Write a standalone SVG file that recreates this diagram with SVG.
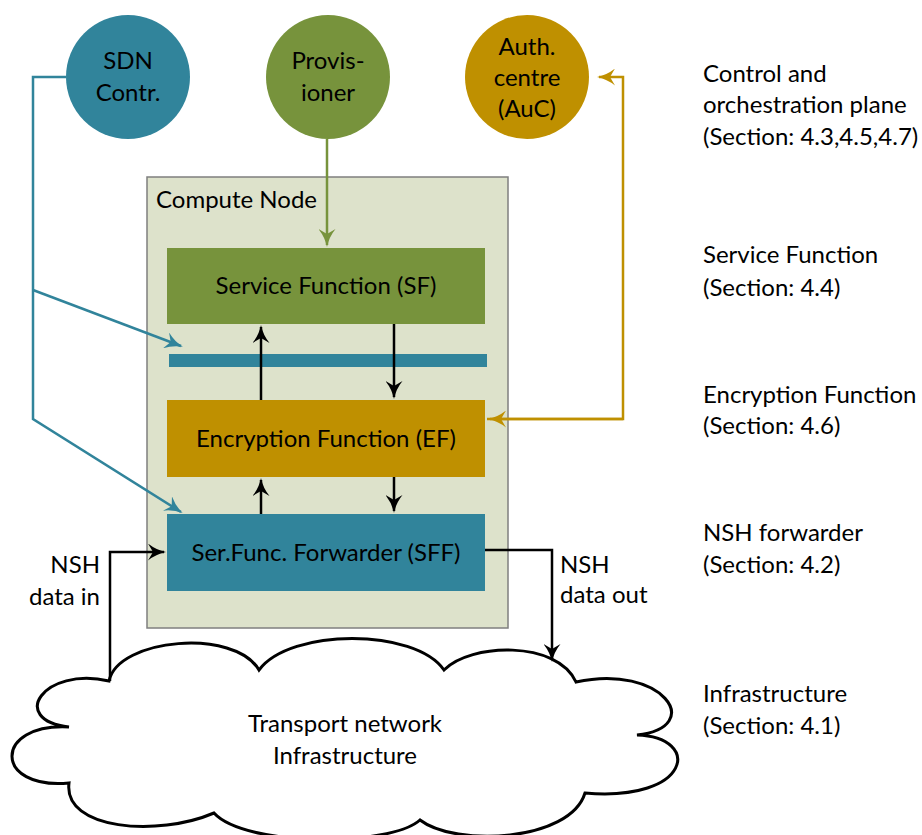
<svg xmlns="http://www.w3.org/2000/svg" width="922" height="835" viewBox="0 0 922 835">
  <style>
    text { font-family: "Lato", "Open Sans", "Liberation Sans", sans-serif; font-size: 24px; fill: #000; }
    .mid { text-anchor: middle; }
    .end { text-anchor: end; }
    .black { fill: none; stroke: #000; stroke-width: 2.5; }
    .teal { fill: none; stroke: #31849b; stroke-width: 2.5; }
    .olive { fill: none; stroke: #77933c; stroke-width: 2.5; }
    .gold { fill: none; stroke: #bf9000; stroke-width: 2.5; }
  </style>
  <defs>
    <marker id="ahBlack" viewBox="0 0 18 17" refX="16" refY="8.5" markerWidth="18" markerHeight="17" markerUnits="userSpaceOnUse" orient="auto">
      <path d="M18,8.5 Q8,6.5 0,0 L5,8.5 L0,17 Q8,10.5 18,8.5 Z" fill="#000"/>
    </marker>
    <marker id="ahTeal" viewBox="0 0 18 17" refX="16" refY="8.5" markerWidth="18" markerHeight="17" markerUnits="userSpaceOnUse" orient="auto">
      <path d="M18,8.5 Q8,6.5 0,0 L5,8.5 L0,17 Q8,10.5 18,8.5 Z" fill="#31849b"/>
    </marker>
    <marker id="ahOlive" viewBox="0 0 18 17" refX="16" refY="8.5" markerWidth="18" markerHeight="17" markerUnits="userSpaceOnUse" orient="auto">
      <path d="M18,8.5 Q8,6.5 0,0 L5,8.5 L0,17 Q8,10.5 18,8.5 Z" fill="#77933c"/>
    </marker>
    <marker id="ahGold" viewBox="0 0 18 17" refX="16" refY="8.5" markerWidth="18" markerHeight="17" markerUnits="userSpaceOnUse" orient="auto">
      <path d="M18,8.5 Q8,6.5 0,0 L5,8.5 L0,17 Q8,10.5 18,8.5 Z" fill="#bf9000"/>
    </marker>
  </defs>

  <rect width="922" height="835" fill="#fff"/>

  <!-- Transport network cloud -->
  <g id="cloud">
    <path d="M109,681 C118,638 235,628 259,670 C290,628 415,628 444,670 C470,643 557,640 576,682 C662,663 707,727 637,735 C702,737 692,802 585,793 C570,842 455,847 420,820 C390,847 245,847 214,813 C158,837 63,830 69,783 C-7,790 -7,723 69,727 C8,720 43,666 109,681 Z" fill="#fff" stroke="#000" stroke-width="3" stroke-linejoin="miter"/>
    <text class="mid" x="345" y="732">Transport network</text>
    <text class="mid" x="345" y="764">Infrastructure</text>
  </g>

  <!-- Compute node container -->
  <g id="compute-node">
    <rect x="147" y="177" width="361" height="451" fill="#dde2cb" stroke="#7f7f7f" stroke-width="1.5"/>
    <text x="156" y="208">Compute Node</text>
  </g>

  <g id="sf">
    <rect x="167" y="248" width="318" height="76" fill="#77933c"/>
    <text class="mid" x="326" y="294">Service Function (SF)</text>
  </g>

  <g id="bus">
    <rect x="169" y="354" width="318" height="13" fill="#31849b"/>
  </g>

  <g id="ef">
    <rect x="167" y="400" width="318" height="77" fill="#bf9000"/>
    <text class="mid" x="326" y="447">Encryption Function (EF)</text>
  </g>

  <g id="sff">
    <rect x="167" y="514" width="318" height="77" fill="#31849b"/>
    <text class="mid" x="326" y="561">Ser.Func. Forwarder (SFF)</text>
  </g>

  <g id="sdn">
    <circle cx="128" cy="77" r="62" fill="#31849b"/>
    <text class="mid" x="128" y="69">SDN</text>
    <text class="mid" x="128" y="101">Contr.</text>
  </g>

  <g id="provisioner">
    <circle cx="328" cy="77" r="62" fill="#77933c"/>
    <text class="mid" x="328" y="69">Provis-</text>
    <text class="mid" x="328" y="101">ioner</text>
  </g>

  <g id="auc">
    <circle cx="527" cy="77" r="62" fill="#bf9000"/>
    <text class="mid" x="527" y="55">Auth.</text>
    <text class="mid" x="527" y="86">centre</text>
    <text class="mid" x="527" y="117">(AuC)</text>
  </g>

  <!-- Connectors -->
  <g id="connectors">
    <path class="teal" d="M66,77 H33 V419 L181,512" marker-end="url(#ahTeal)"/>
    <path class="teal" d="M33,290 L181,346" marker-end="url(#ahTeal)"/>
    <path class="olive" d="M327,139 V245" marker-end="url(#ahOlive)"/>
    <path class="gold" d="M487,419 H623 V77 H599" marker-end="url(#ahGold)"/>
    <path class="gold" d="M623,419 H490" marker-end="url(#ahGold)"/>

    <path class="black" d="M261,400 V327" marker-end="url(#ahBlack)"/>
    <path class="black" d="M394,324 V397" marker-end="url(#ahBlack)"/>
    <path class="black" d="M261,514 V480" marker-end="url(#ahBlack)"/>
    <path class="black" d="M394,477 V511" marker-end="url(#ahBlack)"/>

    <path class="black" d="M110,681 V552 H164" marker-end="url(#ahBlack)"/>
    <path class="black" d="M485,550 H552 V660" marker-end="url(#ahBlack)"/>
  </g>

  <g id="flow-labels">
    <text class="end" x="100" y="573">NSH</text>
    <text class="end" x="100" y="605">data in</text>
    <text x="560" y="573">NSH</text>
    <text x="560" y="603">data out</text>
  </g>

  <g id="layer-labels">
    <text x="703" y="82">Control and</text>
    <text x="703" y="113">orchestration plane</text>
    <text x="703" y="145">(Section: 4.3,4.5,4.7)</text>
    <text x="703" y="263">Service Function</text>
    <text x="703" y="296">(Section: 4.4)</text>
    <text x="703" y="403">Encryption Function</text>
    <text x="703" y="434">(Section: 4.6)</text>
    <text x="703" y="541">NSH forwarder</text>
    <text x="703" y="573">(Section: 4.2)</text>
    <text x="703" y="702">Infrastructure</text>
    <text x="703" y="734">(Section: 4.1)</text>
  </g>
</svg>
